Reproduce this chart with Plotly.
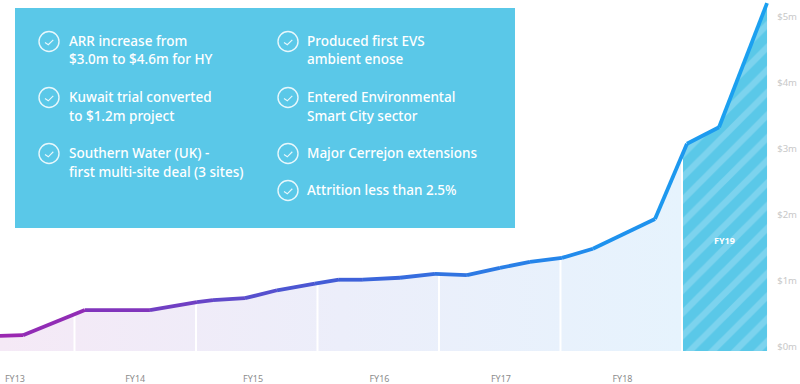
import plotly.graph_objects as go

# Time axis: value 14 is the end of FY13, 15 the end of FY14, and so on
time_fy = [13.387, 13.576, 14.086, 14.621, 15.008, 15.140, 15.403, 15.667, 15.979, 16.177, 16.374,
           16.679, 16.967, 17.230, 17.502, 17.749, 18.012, 18.267, 18.778, 19.041, 19.305, 19.700]
arr_m = [0.23, 0.24, 0.62, 0.62, 0.74, 0.77, 0.80, 0.92, 1.02, 1.08, 1.08,
         1.11, 1.17, 1.15, 1.26, 1.35, 1.41, 1.55, 2.00, 3.14, 3.39, 5.27]
year_ends = [14, 15, 16, 17, 18, 19]
year_end_values = [0.60, 0.74, 1.03, 1.16, 1.41, 2.92]
fy_tick_vals = [13.51, 14.50, 15.47, 16.51, 17.51, 18.51]
fy_tick_text = ["FY13", "FY14", "FY15", "FY16", "FY17", "FY18"]
y_tick_vals = [0, 1, 2, 3, 4, 5]
y_tick_text = ["$0m", "$1m", "$2m", "$3m", "$4m", "$5m"]
left_items = [(41, ["ARR increase from", "$3.0m to $4.6m for HY"]),
              (97, ["Kuwait trial converted", "to $1.2m project"]),
              (153, ["Southern Water (UK) -", "first multi-site deal (3 sites)"])]
right_items = [(41, ["Produced first EVS", "ambient enose"]),
               (97, ["Entered Environmental", "Smart City sector"]),
               (153, ["Major Cerrejon extensions"]),
               (190, ["Attrition less than 2.5%"])]

W, H, BOTTOM = 800, 384, 13
PLOT_H = H - BOTTOM
ZERO_Y = 351
px = lambda x: x / W
py = lambda y: (PLOT_H - y) / PLOT_H
X_RANGE = [13.387, 13.387 + 800 / 121.5]
Y_RANGE = [(ZERO_Y - PLOT_H) / 66, ZERO_Y / 66]

stops = [(13.387, (156, 39, 176)), (14.1, (138, 47, 184)), (16.2, (63, 95, 216)),
         (18.3, (31, 143, 238)), (19.7, (26, 163, 240))]
def line_color(t):
    for (a, ca), (b, cb) in zip(stops, stops[1:]):
        if t <= b:
            f = (t - a) / (b - a)
            return "rgb(%d,%d,%d)" % tuple(round(p + (q - p) * f) for p, q in zip(ca, cb))
    return "rgb(%d,%d,%d)" % stops[-1][1]

fig = go.Figure()
i19 = next(i for i, t in enumerate(time_fy) if t > 19)
hist_x = time_fy[:i19] + [19]
hist_y = arr_m[:i19] + [year_end_values[-1]]
fig.add_trace(go.Scatter(x=hist_x, y=hist_y, mode="none", fill="tozeroy", showlegend=False, hoverinfo="skip",
    fillgradient=dict(type="horizontal", colorscale=[[0, "#f5e9f6"], [0.5, "#eceefa"], [1, "#e6f3fd"]])))
fig.add_trace(go.Scatter(x=[19] + time_fy[i19:], y=[year_end_values[-1]] + arr_m[i19:], mode="none",
    fill="tozeroy", fillcolor="#5ac8e8", showlegend=False, hoverinfo="skip",
    fillpattern=dict(shape="/", bgcolor="#5ac8e8", fgcolor="#7cd3ee", size=16, solidity=0.4, fillmode="replace")))
for b, v in zip(year_ends, year_end_values):
    fig.add_trace(go.Scatter(x=[b, b], y=[0, v], mode="lines", line=dict(color="white", width=2),
                             showlegend=False, hoverinfo="skip"))
for i in range(len(time_fy) - 1):
    fig.add_trace(go.Scatter(x=time_fy[i:i + 2], y=arr_m[i:i + 2], mode="lines", showlegend=False,
                             hoverinfo="skip", cliponaxis=False,
                             line=dict(color=line_color((time_fy[i] + time_fy[i + 1]) / 2), width=3.8)))

shapes = [dict(type="rect", xref="paper", yref="paper", x0=px(15), x1=px(515), y0=py(228), y1=py(8),
               fillcolor="#5ac8e8", line=dict(width=0), layer="above")]
annotations = [dict(x=19.35, y=1.67, xref="x", yref="y", text="<b>FY19</b>", showarrow=False,
                    font=dict(family="Noto Sans", size=9, color="white"))]
for cx, tx, items in [(49, 67, left_items), (288, 305, right_items)]:
    for cy, lines in items:
        cyc = cy + 0.5
        shapes.append(dict(type="circle", xref="paper", yref="paper", x0=px(cx - 10), x1=px(cx + 10),
                           y0=py(cyc + 10), y1=py(cyc - 10), line=dict(color="rgba(255,255,255,0.85)", width=1.4),
                           layer="above"))
        pts = [(cx - 4, cyc + 1), (cx - 0.7, cyc + 3.3), (cx + 4.3, cyc - 1.7)]
        path = "M" + " L".join(f"{px(a):.5f},{py(b):.5f}" for a, b in pts)
        shapes.append(dict(type="path", xref="paper", yref="paper", path=path,
                           line=dict(color="rgba(255,255,255,0.85)", width=1.2), layer="above"))
        for k, text in enumerate(lines):
            annotations.append(dict(x=px(tx), y=py(cy + 18.5 * k), xref="paper", yref="paper", text=text,
                                    xanchor="left", yanchor="middle", showarrow=False, align="left",
                                    font=dict(family="Noto Sans", size=13.5, color="white", weight=500)))

fig.update_layout(
    width=W, height=H, margin=dict(l=0, r=0, t=0, b=BOTTOM), autosize=False,
    paper_bgcolor="white", plot_bgcolor="white", showlegend=False,
    shapes=shapes, annotations=annotations,
    xaxis=dict(range=X_RANGE, tickvals=fy_tick_vals, ticktext=fy_tick_text, showgrid=False, zeroline=False,
               ticks="", ticklabelstandoff=1, tickfont=dict(family="Noto Sans", size=9, color="#8c8c8c")),
    yaxis=dict(range=Y_RANGE, tickvals=y_tick_vals, ticktext=y_tick_text, showgrid=False, zeroline=False,
               side="right", ticks="", ticklabelposition="inside", ticklabelshift=-4,
               tickfont=dict(family="Noto Sans", size=9.5, color="#c8c8c8")),
)
fig.write_html("out.html", config={"displayModeBar": False},
               post_script="document.body.style.margin='0';document.body.style.overflow='hidden';")
